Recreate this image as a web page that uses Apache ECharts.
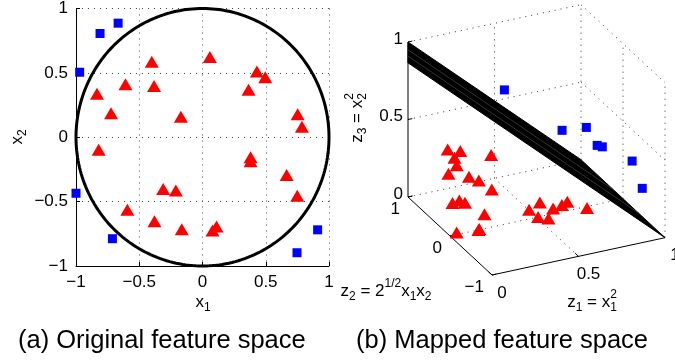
<!DOCTYPE html>
<html><head><meta charset="utf-8">
<script src="https://cdn.jsdelivr.net/npm/echarts/dist/echarts.min.js"></script>
<style>html,body{margin:0;padding:0;background:#fff}#c{width:675px;height:362px}</style>
</head><body><div id="c"></div>
<script>
// ---------- data ----------
const axisTicks2D = [-1, -0.5, 0, 0.5, 1];
const blueX1 = [-0.667, -0.81, -0.971, -1.0, -0.712, 0.91, 0.747];
const blueX2 = [0.886, 0.806, 0.505, -0.435, -0.788, -0.719, -0.897];
const redX1 = [0.058, -0.401, 0.430, 0.496, -0.609, -0.383, -0.834, 0.364, -0.723, -0.171, 0.752, 0.786,
               -0.821, 0.380, 0.380, 0.665, 0.749, -0.311, -0.211, -0.594, -0.380, -0.164, 0.079, 0.111];
const redX2 = [0.623, 0.587, 0.510, 0.466, 0.412, 0.399, 0.337, 0.368, 0.187, 0.159, 0.179, 0.081,
               -0.097, -0.156, -0.187, -0.293, -0.455, -0.401, -0.414, -0.564, -0.652, -0.714, -0.724, -0.693];
const boundaryRadius = 1;
const z1Ticks = [0, 0.5, 1];
const z2Ticks = [-1, 0, 1];
const z3Ticks = [0, 0.5, 1];
// visible extent of the separating plane z1 + z3 = r^2, as (z1, z2) corners
const surfCorners = [[0, 1], [1, 1], [1, -1], [-0.486, -1]];
const surfMeshZ2 = [-0.35, 0.25];
const captions = ['(a) Original feature space', '(b) Mapped feature space'];

// ---------- helpers ----------
const FONT = '"Liberation Sans", Arial, Helvetica, sans-serif';
const fmt = v => v < 0 ? '\u2212' + Math.abs(v) : String(v);
const featureMap = (x1, x2) => [x1 * x1, Math.SQRT2 * x1 * x2, x2 * x2];
// orthographic view of the 3-D box (screen units of the right grid)
const VIEW = {ox: 152, oy: 275, e1: [173, -37.3], e2: [-42, -39], e3: [0, -155]};
function proj(z1, z2, z3) {
  const b = z2 + 1;
  return [VIEW.ox + VIEW.e1[0] * z1 + VIEW.e2[0] * b + VIEW.e3[0] * z3,
          VIEW.oy + VIEW.e1[1] * z1 + VIEW.e2[1] * b + VIEW.e3[1] * z3];
}
const ctx = document.createElement('canvas').getContext('2d');
function tw(s, size) { ctx.font = size + 'px ' + FONT; return ctx.measureText(s).width; }
function mathGroup(parts, cx, cy, rot) {
  const M = 17, S = 12;
  let x = 0; const kids = [];
  const t = (s, xx, yy, size) => ({type: 'text', x: xx, y: yy,
    style: {text: s, fontSize: size, fontFamily: FONT, fill: '#000', align: 'left', verticalAlign: 'middle'}});
  parts.forEach(p => {
    if (p.n != null) { kids.push(t(p.n, x, 0, M)); x += tw(p.n, M); }
    else {
      let w = 0;
      if (p.sub != null) { kids.push(t(p.sub, x, 6, S)); w = Math.max(w, tw(p.sub, S)); }
      if (p.sup != null) { kids.push(t(p.sup, x, -7, S)); w = Math.max(w, tw(p.sup, S)); }
      x += w;
    }
  });
  kids.forEach(k => k.x -= x / 2);
  return {type: 'group', x: cx, y: cy, rotation: rot || 0, children: kids};
}

// ---------- derived series ----------
const blue2D = blueX1.map((v, i) => [v, blueX2[i]]);
const red2D = redX1.map((v, i) => [v, redX2[i]]);
const blue3D = blueX1.map((v, i) => proj(...featureMap(v, blueX2[i])));
const red3D = redX1.map((v, i) => proj(...featureMap(v, redX2[i])));

// box segments: [z1a,z2a,z3a, z1b,z2b,z3b, solid]
const segs3 = [];
z3Ticks.forEach(t => { segs3.push([0, 1, t, 1, 1, t, 0]); segs3.push([1, 1, t, 1, -1, t, 0]); });
z1Ticks.slice(1).forEach(t => segs3.push([t, 1, 0, t, 1, 1, 0]));
z2Ticks.slice(0, 2).forEach(t => segs3.push([1, t, 0, 1, t, 1, 0]));
segs3.push([0, 0, 0, 1, 0, 0, 0]);
segs3.push([0.5, -1, 0, 0.5, 1, 0, 0]);
// solid axes
segs3.push([0, 1, 0, 0, 1, 1, 1]);
segs3.push([0, 1, 0, 0, -1, 0, 1]);
segs3.push([0, -1, 0, 1, -1, 0, 1]);
// tick marks
z3Ticks.forEach(t => segs3.push([0, 1, t, 0.025, 1, t, 1]));
z2Ticks.forEach(t => segs3.push([0, t, 0, 0.025, t, 0, 1]));
z1Ticks.forEach(t => segs3.push([t, -1, 0, t, -0.92, 0, 1]));
const segData = segs3.map(s => { const a = proj(s[0], s[1], s[2]), b = proj(s[3], s[4], s[5]); return [a[0], a[1], b[0], b[1], s[6]]; });

const tickLabelSeries = (ticks, pos, dx, dy, align) => ({
  type: 'custom', xAxisIndex: 1, yAxisIndex: 1, z: 5, silent: true,
  data: ticks.map(t => { const p = pos(t); return [p[0], p[1], t]; }),
  renderItem: (params, api) => {
    const p = api.coord([api.value(0), api.value(1)]);
    return {type: 'text', x: p[0] + dx, y: p[1] + dy,
      style: {text: fmt(api.value(2)), fontSize: 17, fontFamily: FONT, fill: '#000', align, verticalAlign: 'middle'}};
  }
});

const chart = echarts.init(document.getElementById('c'), null, {renderer: 'canvas'});
chart.setOption({
  backgroundColor: '#fff',
  animation: false,
  grid: [
    {left: 76, top: 7, width: 253, height: 259},
    {left: 340, top: 0, width: 335, height: 362}
  ],
  xAxis: [
    {gridIndex: 0, type: 'value', min: -1, max: 1, interval: 0.5,
     axisLine: {show: true, onZero: false, lineStyle: {color: '#000', width: 1}},
     axisTick: {show: true, inside: true, length: 4, lineStyle: {color: '#000'}},
     axisLabel: {formatter: fmt, fontSize: 17, color: '#000', fontFamily: FONT, margin: 8},
     splitLine: {show: true, lineStyle: {color: '#444', type: [1, 5], width: 1}}},
    {gridIndex: 1, type: 'value', min: 0, max: 335, show: false}
  ],
  yAxis: [
    {gridIndex: 0, type: 'value', min: -1, max: 1, interval: 0.5,
     axisLine: {show: true, onZero: false, lineStyle: {color: '#000', width: 1}},
     axisTick: {show: true, inside: true, length: 4, lineStyle: {color: '#000'}},
     axisLabel: {formatter: fmt, fontSize: 17, color: '#000', fontFamily: FONT, margin: 8},
     splitLine: {show: true, lineStyle: {color: '#444', type: [1, 5], width: 1}}},
    {gridIndex: 1, type: 'value', min: 0, max: 362, inverse: true, show: false}
  ],
  series: [
    {type: 'custom', xAxisIndex: 0, yAxisIndex: 0, z: 3, silent: true, data: [[0, 0, boundaryRadius]],
     renderItem: (params, api) => {
       const cx = api.value(0), cy = api.value(1), r = api.value(2);
       const pts = [];
       for (let k = 0; k <= 240; k++) { const a = k / 240 * 2 * Math.PI; pts.push(api.coord([cx + r * Math.cos(a), cy + r * Math.sin(a)])); }
       return {type: 'polyline', shape: {points: pts}, style: {stroke: '#000', lineWidth: 3, fill: null}};
     }},
    {type: 'scatter', xAxisIndex: 0, yAxisIndex: 0, z: 4, data: red2D, symbol: 'triangle', symbolSize: [14, 12],
     itemStyle: {color: '#ff0000', opacity: 1}},
    {type: 'scatter', xAxisIndex: 0, yAxisIndex: 0, z: 4, data: blue2D, symbol: 'rect', symbolSize: 9,
     itemStyle: {color: '#0000ff', opacity: 1}},
    // 3-D box lines
    {type: 'custom', xAxisIndex: 1, yAxisIndex: 1, z: 1, silent: true, data: segData,
     renderItem: (params, api) => {
       const a = api.coord([api.value(0), api.value(1)]);
       const b = api.coord([api.value(2), api.value(3)]);
       const solid = api.value(4) === 1;
       return {type: 'line', shape: {x1: a[0], y1: a[1], x2: b[0], y2: b[1]},
         style: {stroke: solid ? '#000' : '#333', lineWidth: 1, lineDash: solid ? null : [1, 5]}};
     }},
    // separating plane z1 + z3 = r^2
    {type: 'custom', xAxisIndex: 1, yAxisIndex: 1, z: 3, silent: true, data: [[0, 0, boundaryRadius]],
     renderItem: (params, api) => {
       const r2 = api.value(2) * api.value(2);
       const pts = surfCorners.map(c => api.coord(proj(c[0], c[1], r2 - c[0])));
       const left0 = surfCorners[0], left1 = surfCorners[3];
       const kids = [{type: 'polygon', shape: {points: pts}, style: {fill: '#000', stroke: '#000', lineWidth: 1}}];
       surfMeshZ2.forEach(c => {
         const f = (left0[1] - c) / (left0[1] - left1[1]);
         const z1s = left0[0] + f * (left1[0] - left0[0]);
         const a = api.coord(proj(z1s, c, r2 - z1s)), b = api.coord(proj(1, c, r2 - 1));
         kids.push({type: 'line', shape: {x1: a[0], y1: a[1], x2: b[0], y2: b[1]}, style: {stroke: '#666', lineWidth: 0.5}});
       });
       return {type: 'group', children: kids};
     }},
    {type: 'scatter', xAxisIndex: 1, yAxisIndex: 1, z: 4, data: red3D, symbol: 'triangle', symbolSize: [14, 12],
     itemStyle: {color: '#ff0000', opacity: 1}},
    {type: 'scatter', xAxisIndex: 1, yAxisIndex: 1, z: 4, data: blue3D, symbol: 'rect', symbolSize: 9,
     itemStyle: {color: '#0000ff', opacity: 1}},
    tickLabelSeries(z3Ticks, t => proj(0, 1, t), -5, -3, 'right'),
    tickLabelSeries(z2Ticks, t => proj(0, t, 0), -8, 12, 'right'),
    tickLabelSeries(z1Ticks, t => proj(t, -1, 0), 10, 18, 'center')
  ],
  graphic: [
    mathGroup([{n: 'x'}, {sub: '1'}], 203, 302),
    mathGroup([{n: 'x'}, {sub: '2'}], 17, 137, Math.PI / 2),
    mathGroup([{n: 'z'}, {sub: '3'}, {n: ' = x'}, {sub: '2', sup: '2'}], 357, 118, Math.PI / 2),
    mathGroup([{n: 'z'}, {sub: '2'}, {n: ' = 2'}, {sup: '1/2'}, {n: 'x'}, {sub: '1'}, {n: 'x'}, {sub: '2'}], 386, 291),
    mathGroup([{n: 'z'}, {sub: '1'}, {n: ' = x'}, {sub: '1', sup: '2'}], 592, 302),
    {type: 'text', x: 18, y: 341, style: {text: captions[0], fontSize: 25.5, fontFamily: FONT, fill: '#000', align: 'left', verticalAlign: 'middle'}},
    {type: 'text', x: 356, y: 341, style: {text: captions[1], fontSize: 25.5, fontFamily: FONT, fill: '#000', align: 'left', verticalAlign: 'middle'}}
  ]
});
</script></body></html>
